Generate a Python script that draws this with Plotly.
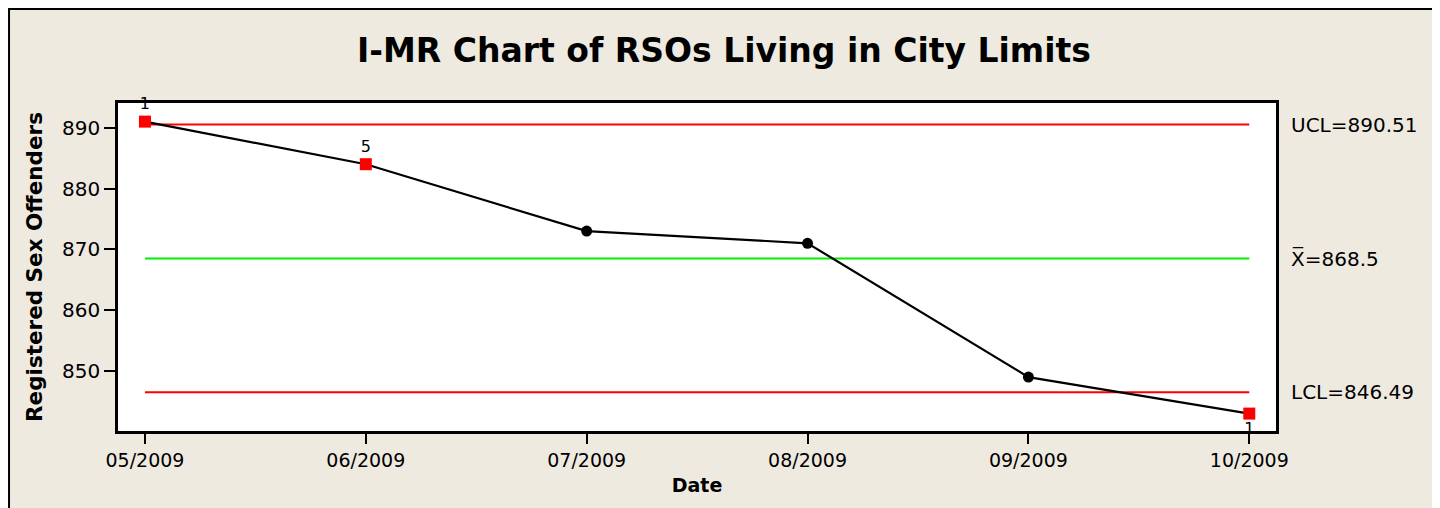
import plotly.graph_objects as go

# ---- data ----
dates = ["05/2009", "06/2009", "07/2009", "08/2009", "09/2009", "10/2009"]
rso_counts = [891, 884, 873, 871, 849, 843]
flag_labels = ["1", "5", "", "", "", "1"]  # test-failure labels
ucl = 890.51
center = 868.5
lcl = 846.49
y_ticks = [850, 860, 870, 880, 890]

idx = list(range(len(dates)))
flagged = [i for i, f in enumerate(flag_labels) if f]
normal = [i for i, f in enumerate(flag_labels) if not f]

FONT = "DejaVu Sans"
BG = "#EEEAE0"

fig = go.Figure()

# control lines
fig.add_trace(go.Scatter(x=[idx[0], idx[-1]], y=[ucl, ucl], mode="lines",
                         line=dict(color="#FF0000", width=2), hoverinfo="skip"))
fig.add_trace(go.Scatter(x=[idx[0], idx[-1]], y=[lcl, lcl], mode="lines",
                         line=dict(color="#FF0000", width=2), hoverinfo="skip"))
fig.add_trace(go.Scatter(x=[idx[0], idx[-1]], y=[center, center], mode="lines",
                         line=dict(color="#00EE00", width=2), hoverinfo="skip"))

# data line
fig.add_trace(go.Scatter(x=idx, y=rso_counts, mode="lines",
                         line=dict(color="black", width=2.2)))
# normal points
fig.add_trace(go.Scatter(x=[idx[i] for i in normal], y=[rso_counts[i] for i in normal],
                         mode="markers", marker=dict(symbol="circle", size=11, color="black")))
# flagged points
fig.add_trace(go.Scatter(x=[idx[i] for i in flagged], y=[rso_counts[i] for i in flagged],
                         mode="markers+text", cliponaxis=False,
                         marker=dict(symbol="square", size=12, color="#FF0000"),
                         text=[flag_labels[i] for i in flagged],
                         textposition=["top center" if rso_counts[i] > center else "bottom center" for i in flagged],
                         textfont=dict(family=FONT, size=16, color="black")))

annotations = []
right_labels = [("UCL=890.51", ucl), ("X\u0305=868.5", center), ("LCL=846.49", lcl)]
for txt, val in right_labels:
    annotations.append(dict(x=1.011, y=val, xref="paper", yref="y", text=txt,
                            showarrow=False, xanchor="left", yanchor="middle",
                            font=dict(family=FONT, size=20, color="black")))

fig.update_layout(
    width=1432, height=500,
    margin=dict(l=110, r=164, t=95, b=77),
    paper_bgcolor=BG, plot_bgcolor="white",
    showlegend=False,
    title=dict(text="<b>I-MR Chart of RSOs Living in City Limits</b>", x=0.5, xanchor="center",
               y=0.916, yanchor="middle", yref="container",
               font=dict(family=FONT, size=33, color="black")),
    annotations=annotations,
    shapes=[dict(type="rect", xref="paper", yref="paper", x0=-0.0941, x1=1.1373, y0=-0.3, y1=1.2866,
                 line=dict(color="black", width=2), fillcolor="rgba(0,0,0,0)", layer="below")],
)
fig.update_xaxes(range=[-0.122, 5.121], tickvals=idx, ticktext=dates,
                 showgrid=False, zeroline=False, showline=True, mirror=True,
                 linecolor="black", linewidth=2.5, ticks="outside", ticklen=10, tickwidth=2,
                 tickcolor="black", tickfont=dict(family=FONT, size=19, color="black"),
                 title=dict(text="<b>Date</b>", font=dict(family=FONT, size=19, color="black"), standoff=10))
fig.update_yaxes(range=[840.14, 894.06], tickvals=y_ticks,
                 showgrid=False, zeroline=False, showline=True, mirror=True,
                 linecolor="black", linewidth=2.5, ticks="outside", ticklen=11, tickwidth=2,
                 tickcolor="black", tickfont=dict(family=FONT, size=20, color="black"),
                 title=dict(text="<b>Registered Sex Offenders</b>", font=dict(family=FONT, size=21.5, color="black"),
                            standoff=14))

fig.write_html("out.html")
